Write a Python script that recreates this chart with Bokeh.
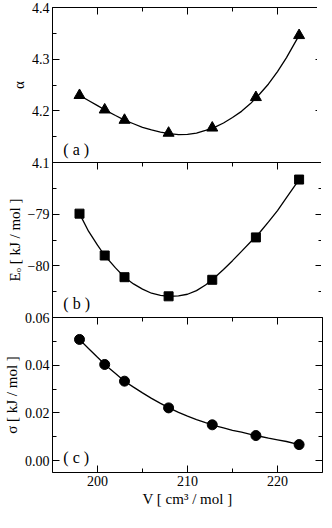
from bokeh.plotting import figure
from bokeh.layouts import column
from bokeh.models import LinearAxis, FixedTicker, Label, NumeralTickFormatter, Range1d
from bokeh.embed import file_html
from bokeh.resources import INLINE

# ---- data ----
volume = [198.0, 200.8, 203.0, 207.9, 212.75, 217.6, 222.4]
alpha = [4.230, 4.202, 4.182, 4.157, 4.167, 4.226, 4.346]
energy = [-78.99, -79.80, -80.22, -80.59, -80.27, -79.45, -78.33]
sigma = [0.0508, 0.0403, 0.0333, 0.0221, 0.0150, 0.0105, 0.0067]

# fitted curves
fit_v_alpha = [198.0, 199, 200, 200.8, 202, 203, 204, 205, 206, 207, 208, 209, 210,
               211, 212, 213, 214, 215, 216, 217, 218, 219, 220, 221, 222.4]
fit_alpha = [4.230, 4.220, 4.210, 4.202, 4.191, 4.182, 4.175, 4.168, 4.163, 4.159, 4.156, 4.154, 4.1545,
             4.157, 4.162, 4.168, 4.1765, 4.187, 4.199, 4.214, 4.232, 4.252, 4.276, 4.303, 4.346]

fit_v_energy = [198.0, 199, 200, 200.8, 202, 203, 204, 205, 206, 207, 208, 209, 210,
                211, 212, 212.75, 214, 215, 216, 217, 218, 219, 220, 221, 222.4]
fit_energy = [-78.99, -79.33, -79.60, -79.80, -80.04, -80.22, -80.35, -80.45, -80.53, -80.57, -80.59, -80.58, -80.55,
              -80.48, -80.37, -80.27, -80.07, -79.90, -79.72, -79.54, -79.36, -79.15, -78.93, -78.68, -78.33]

fit_v_sigma = [198.0, 199, 200, 201, 202, 203, 204, 205, 206, 207, 208, 209, 210,
               211, 212, 213, 214, 215, 216, 217, 218, 219, 220, 221, 222.4]
fit_sigma = [0.0508, 0.0470, 0.0433, 0.0397, 0.0365, 0.0333, 0.0308, 0.0284, 0.0261, 0.0240, 0.0220, 0.0202, 0.0186,
             0.0172, 0.0159, 0.0147, 0.0137, 0.0127, 0.0119, 0.0110, 0.0102, 0.0094, 0.0087, 0.0080, 0.0067]

x_major = [200, 210, 220]
x_minor = [195, 205, 215, 225]
x_label = "V [ cm\u00b3 / mol ]"

FONT = "Liberation Serif"
FW, FH = 270, 155
LB = 44
OVER = 8


def style_axis(ax, labels=True):
    ax.axis_line_color = None
    ax.major_tick_in = 7
    ax.major_tick_out = 0
    ax.minor_tick_in = 4
    ax.minor_tick_out = 0
    ax.major_tick_line_color = "black"
    ax.minor_tick_line_color = "black"
    if labels:
        ax.major_label_text_font = FONT
        ax.major_label_text_font_size = "14px"
        ax.major_label_text_color = "black"
        ax.major_label_standoff = 3
        ax.axis_label_text_font = FONT
        ax.axis_label_text_font_size = "15px"
        ax.axis_label_text_font_style = "normal"
        ax.axis_label_text_color = "black"
        ax.axis_label_standoff = 2
    else:
        ax.major_label_text_color = None
        ax.major_label_standoff = 0


def make_panel(yr, ticks, minor, ylabel, fmt, top, bottom, mtop):
    p = figure(frame_width=FW, frame_height=FH,
               x_range=Range1d(195, 225), y_range=Range1d(*yr),
               output_backend="svg", toolbar_location=None,
               x_axis_location=None, y_axis_location=None,
               min_border_left=LB, min_border_right=2,
               min_border_top=top, min_border_bottom=bottom,
               margin=(mtop, 0, 0, 0))
    p.xgrid.visible = False
    p.ygrid.visible = False
    p.outline_line_color = "black"
    p.outline_line_width = 1
    p.background_fill_color = None
    p.border_fill_color = None

    yl = LinearAxis(ticker=FixedTicker(ticks=ticks, minor_ticks=minor), axis_label=ylabel)
    if fmt is not None:
        yl.formatter = fmt
    style_axis(yl)
    p.add_layout(yl, "left")
    yr_ax = LinearAxis(ticker=FixedTicker(ticks=ticks, minor_ticks=minor))
    style_axis(yr_ax, labels=False)
    p.add_layout(yr_ax, "right")
    xt = LinearAxis(ticker=FixedTicker(ticks=x_major, minor_ticks=x_minor))
    style_axis(xt, labels=False)
    p.add_layout(xt, "above")
    return p


pa = make_panel((4.1, 4.4), [4.1, 4.2, 4.3, 4.4], [4.15, 4.25, 4.35], "\u03b1",
                NumeralTickFormatter(format="0.0"), 7, OVER, 0)
pa.line(fit_v_alpha, fit_alpha, line_color="black", line_width=1.3)
pa.scatter(volume, alpha, marker="triangle", size=11, color="black")
pa.add_layout(Label(x=196.2, y=4.126, text="( a )", text_font=FONT, text_font_size="16px",
                    text_color="black", text_baseline="alphabetic"))

pb = make_panel((-81, -78), [-80, -79], [-80.5, -79.5, -78.5], "E\u2092 [ kJ / mol ]",
                None, OVER, OVER, -2 * OVER)
pb.line(fit_v_energy, fit_energy, line_color="black", line_width=1.3)
pb.scatter(volume, energy, marker="square", size=9, color="black")
pb.add_layout(Label(x=196.2, y=-80.73, text="( b )", text_font=FONT, text_font_size="16px",
                    text_color="black", text_baseline="alphabetic"))

pc = make_panel((-0.005, 0.06), [0.0, 0.02, 0.04, 0.06], [0.01, 0.03, 0.05], "\u03c3 [ kJ / mol ]",
                NumeralTickFormatter(format="0.00"), OVER, 38, -2 * OVER)
xb = LinearAxis(ticker=FixedTicker(ticks=x_major, minor_ticks=x_minor), axis_label=x_label)
style_axis(xb)
pc.add_layout(xb, "below")
pc.line(fit_v_sigma, fit_sigma, line_color="black", line_width=1.3)
pc.scatter(volume, sigma, marker="circle", size=10, color="black")
pc.add_layout(Label(x=196.2, y=0.0015, text="( c )", text_font=FONT, text_font_size="16px",
                    text_color="black", text_baseline="alphabetic"))

layout = column(pa, pb, pc, spacing=0)
open("out.html", "w").write(file_html(layout, INLINE))
